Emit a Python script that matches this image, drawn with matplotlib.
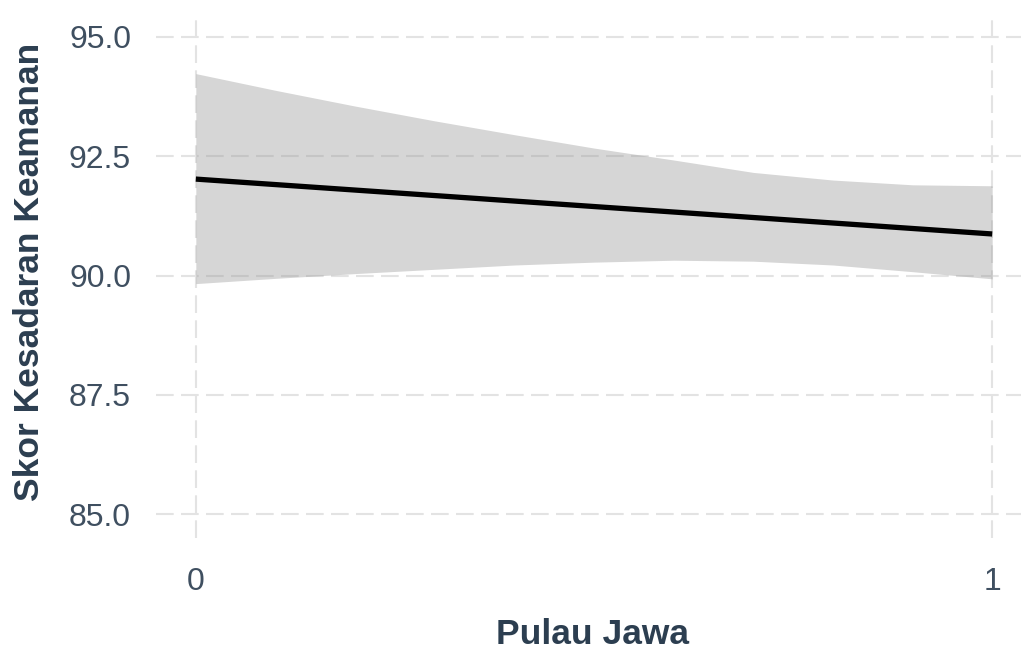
import matplotlib
matplotlib.use("Agg")
import matplotlib.pyplot as plt

plt.rcParams['font.family'] = ['Liberation Sans', 'DejaVu Sans']

# Fitted regression line (Pulau Jawa: 0/1)
fit_x = [0, 1]
fit_y = [92.02, 90.87]

# Confidence band around the fit
band_x = [0.0, 0.1, 0.2, 0.3, 0.4, 0.5, 0.6, 0.7, 0.8, 0.9, 1.0]
band_upper = [94.23, 93.88, 93.55, 93.24, 92.95, 92.67, 92.42, 92.16, 92.00, 91.90, 91.88]
band_lower = [89.83, 89.94, 90.04, 90.13, 90.22, 90.28, 90.32, 90.30, 90.22, 90.08, 89.93]

x_ticks = [0, 1]
x_tick_labels = ["0", "1"]
y_ticks = [85.0, 87.5, 90.0, 92.5, 95.0]
y_tick_labels = ["85.0", "87.5", "90.0", "92.5", "95.0"]

W, H = 1021, 651
fig = plt.figure(figsize=(W / 100, H / 100), dpi=100)
fig.patch.set_facecolor("white")

left, right, top, bottom = 156, 1032, 13, 538
ax = fig.add_axes([left / W, 1 - bottom / H, (right - left) / W, (bottom - top) / H])
ax.set_facecolor("white")

ax.set_xlim(-0.05, 1.05)
ax.set_ylim(84.5, 95.5)

# Dashed grid
grid_kw = dict(color="#e3e3e3", linewidth=1.5, linestyle=(0, (8.5, 3.5)), zorder=0)
for yv in y_ticks:
    ax.axhline(yv, **grid_kw)
for xv in x_ticks:
    ax.axvline(xv, **grid_kw)

ax.fill_between(band_x, band_lower, band_upper, color="#999999", alpha=0.4,
                linewidth=0, zorder=2)
ax.plot(fit_x, fit_y, color="black", linewidth=3.8, solid_capstyle="butt", zorder=3)

for s in ax.spines.values():
    s.set_visible(False)

tick_color = "#3f4f60"
ax.set_xticks(x_ticks)
ax.set_xticklabels(x_tick_labels)
ax.set_yticks(y_ticks)
ax.set_yticklabels(y_tick_labels)
ax.tick_params(axis="both", length=0, labelsize=23, labelcolor=tick_color)
ax.tick_params(axis="y", pad=18)
ax.tick_params(axis="x", pad=21)

title_color = "#2c3e50"
fig.text(592 / W, 1 - 635 / H, "Pulau Jawa", ha="center", va="center",
         fontsize=25.5, fontweight="bold", color=title_color)
fig.text(30 / W, 1 - 272 / H, "Skor Kesadaran Keamanan", ha="center", va="center",
         rotation=90, fontsize=25.5, fontweight="bold", color=title_color)

fig.savefig("out.png", dpi=100, facecolor="white")
